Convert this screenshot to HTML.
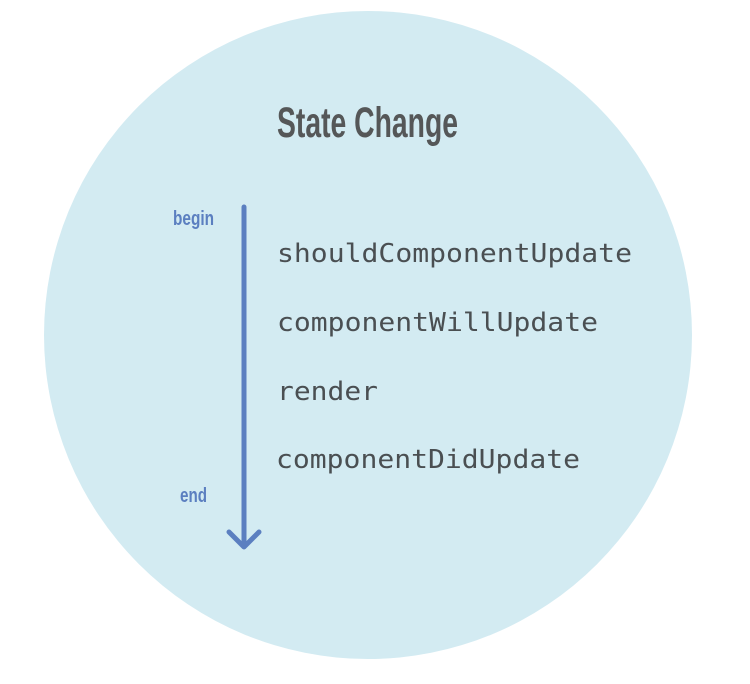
<!DOCTYPE html>
<html><head><meta charset="utf-8"><style>
html,body{margin:0;padding:0;background:#fff;}
svg{display:block;}
</style></head><body>
<svg width="750" height="684" viewBox="0 0 750 684" xmlns="http://www.w3.org/2000/svg">
<circle cx="368" cy="335" r="324" fill="#d3ebf2"/>
<text x="277" y="137" font-family="Liberation Sans, sans-serif" font-weight="bold" font-size="43" fill="#555758" textLength="181" lengthAdjust="spacingAndGlyphs">State Change</text>
<text x="173" y="225" font-family="Liberation Sans, sans-serif" font-weight="bold" font-size="20" fill="#5b7fc0" textLength="41" lengthAdjust="spacingAndGlyphs">begin</text>
<text x="180" y="502" font-family="Liberation Sans, sans-serif" font-weight="bold" font-size="20" fill="#5b7fc0" textLength="27" lengthAdjust="spacingAndGlyphs">end</text>
<line x1="244" y1="207" x2="244" y2="546" stroke="#5b7fc0" stroke-width="5" stroke-linecap="round"/>
<polyline points="229,532 244,547 259,532" fill="none" stroke="#5b7fc0" stroke-width="5" stroke-linecap="round" stroke-linejoin="round"/>
<g font-family="DejaVu Sans Mono, Liberation Mono, monospace" font-size="26" fill="#4a4f52">
<text x="277" y="262" textLength="355" lengthAdjust="spacingAndGlyphs">shouldComponentUpdate</text>
<text x="277" y="331" textLength="321" lengthAdjust="spacingAndGlyphs">componentWillUpdate</text>
<text x="277" y="400" textLength="101" lengthAdjust="spacingAndGlyphs">render</text>
<text x="276" y="468" textLength="304" lengthAdjust="spacingAndGlyphs">componentDidUpdate</text>
</g>
</svg>
</body></html>
